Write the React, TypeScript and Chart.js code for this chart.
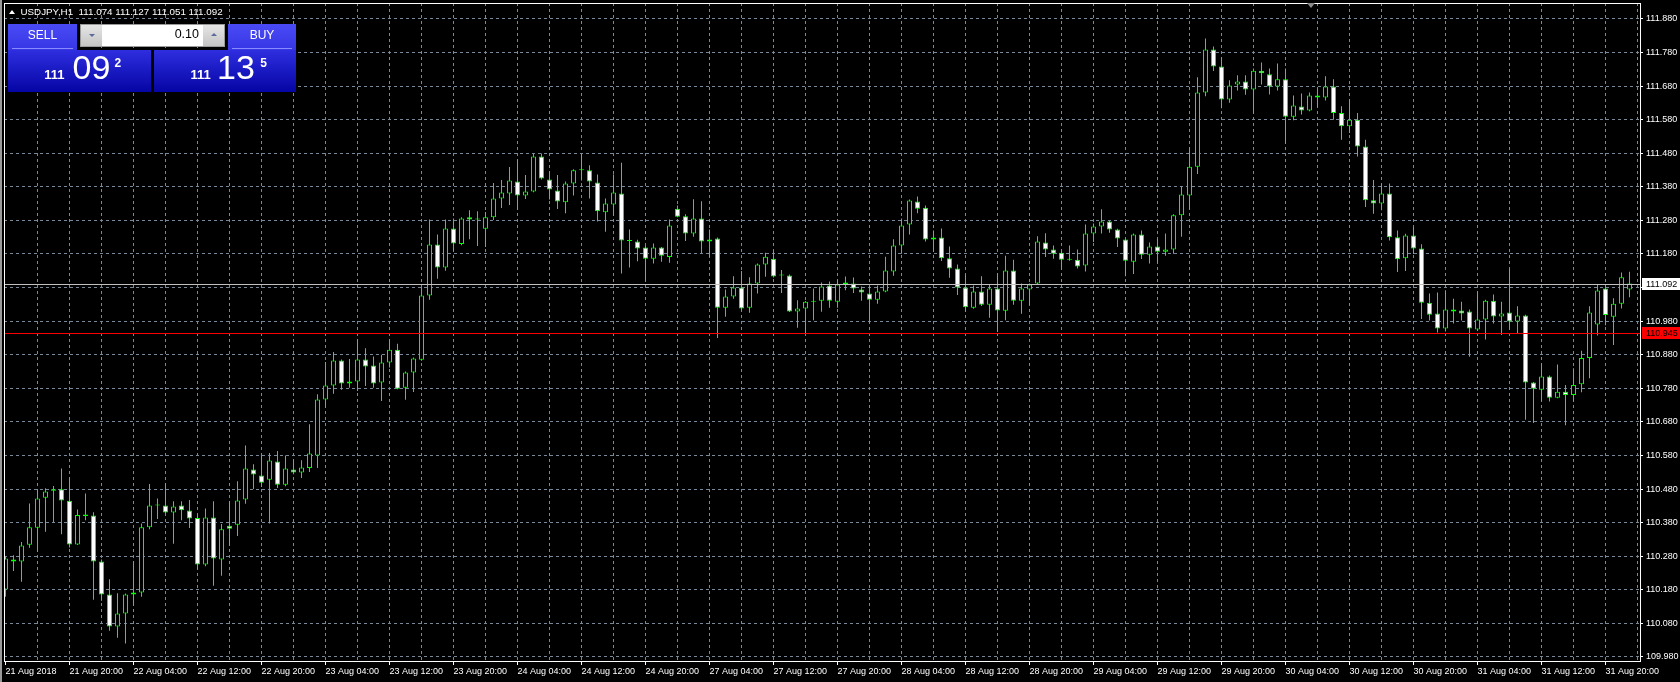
import React, { useEffect, useRef } from 'react';
import { Chart, registerables } from 'chart.js';

Chart.register(...registerables);

const SYMBOL = 'USDJPY,H1';

const OPEN = [
  110.181, 110.270, 110.264, 110.314, 110.365, 110.454, 110.475, 110.479, 110.445, 110.315,
  110.400, 110.401, 110.264, 110.166, 110.071, 110.109, 110.172, 110.172, 110.366, 110.431,
  110.431, 110.410, 110.431, 110.416, 110.394, 110.255, 110.395, 110.270, 110.371, 110.374,
  110.449, 110.538, 110.520, 110.508, 110.562, 110.493, 110.538, 110.529, 110.543, 110.580,
  110.747, 110.788, 110.863, 110.794, 110.800, 110.866, 110.848, 110.797, 110.857, 110.895,
  110.782, 110.827, 110.865, 111.056, 111.208, 111.140, 111.256, 111.210, 111.289, 111.283,
  111.255, 111.289, 111.345, 111.360, 111.396, 111.354, 111.366, 111.470, 111.402, 111.369,
  111.334, 111.390, 111.429, 111.429, 111.393, 111.304, 111.327, 111.360, 111.220, 111.217,
  111.199, 111.166, 111.199, 111.171, 111.315, 111.292, 111.241, 111.286, 111.217, 111.226,
  111.020, 111.053, 111.080, 111.020, 111.092, 111.149, 111.166, 111.119, 111.116, 111.009,
  111.018, 111.038, 111.041, 111.086, 111.038, 111.089, 111.092, 111.074, 111.062, 111.044,
  111.068, 111.128, 111.205, 111.268, 111.336, 111.318, 111.223, 111.229, 111.167, 111.137,
  111.080, 111.020, 111.068, 111.029, 111.077, 111.011, 111.131, 111.041, 111.074, 111.092,
  111.214, 111.193, 111.184, 111.163, 111.163, 111.146, 111.241, 111.262, 111.277, 111.253,
  111.223, 111.157, 111.238, 111.178, 111.202, 111.187, 111.193, 111.295, 111.354, 111.440,
  111.661, 111.789, 111.738, 111.640, 111.685, 111.694, 111.670, 111.726, 111.715, 111.679,
  111.700, 111.589, 111.619, 111.607, 111.652, 111.646, 111.679, 111.600, 111.560, 111.580,
  111.500, 111.340, 111.330, 111.360, 111.230, 111.167, 111.235, 111.196, 111.035, 111.003,
  110.958, 111.015, 111.012, 111.009, 110.955, 110.985, 111.041, 110.994, 111.006, 110.979,
  110.997, 110.797, 110.776, 110.815, 110.752, 110.770, 110.760, 110.792, 110.870, 110.970,
  111.077, 110.993, 111.032, 111.074,
];

const HIGH = [
  110.278, 110.283, 110.322, 110.437, 110.479, 110.482, 110.489, 110.541, 110.514, 110.419,
  110.467, 110.411, 110.270, 110.211, 110.170, 110.169, 110.265, 110.377, 110.495, 110.452,
  110.497, 110.444, 110.444, 110.447, 110.405, 110.422, 110.444, 110.376, 110.444, 110.503,
  110.610, 110.554, 110.580, 110.587, 110.593, 110.580, 110.568, 110.566, 110.673, 110.762,
  110.858, 110.888, 110.866, 110.867, 110.926, 110.899, 110.875, 110.880, 110.925, 110.913,
  110.830, 110.872, 111.080, 111.283, 111.238, 111.283, 111.286, 111.289, 111.310, 111.307,
  111.305, 111.391, 111.400, 111.439, 111.461, 111.415, 111.479, 111.479, 111.426, 111.415,
  111.396, 111.432, 111.479, 111.444, 111.417, 111.345, 111.417, 111.452, 111.253, 111.222,
  111.204, 111.211, 111.201, 111.283, 111.324, 111.298, 111.343, 111.337, 111.253, 111.229,
  111.074, 111.114, 111.129, 111.111, 111.152, 111.184, 111.190, 111.132, 111.119, 111.042,
  111.040, 111.077, 111.095, 111.098, 111.104, 111.113, 111.110, 111.083, 111.086, 111.086,
  111.172, 111.224, 111.286, 111.342, 111.351, 111.324, 111.250, 111.256, 111.202, 111.149,
  111.119, 111.086, 111.114, 111.089, 111.122, 111.175, 111.163, 111.092, 111.092, 111.233,
  111.242, 111.205, 111.190, 111.205, 111.193, 111.268, 111.271, 111.313, 111.280, 111.255,
  111.225, 111.241, 111.250, 111.214, 111.226, 111.241, 111.298, 111.381, 111.496, 111.706,
  111.822, 111.798, 111.765, 111.697, 111.712, 111.712, 111.732, 111.750, 111.732, 111.747,
  111.732, 111.652, 111.658, 111.661, 111.673, 111.709, 111.700, 111.620, 111.640, 111.600,
  111.520, 111.400, 111.390, 111.390, 111.250, 111.240, 111.260, 111.209, 111.062, 111.065,
  111.072, 111.047, 111.038, 111.015, 111.068, 111.044, 111.059, 111.038, 111.137, 111.024,
  110.999, 110.799, 110.854, 110.818, 110.851, 110.790, 110.840, 110.892, 111.024, 111.090,
  111.090, 111.048, 111.125, 111.127,
];

const LOW = [
  110.159, 110.236, 110.204, 110.305, 110.293, 110.353, 110.382, 110.345, 110.306, 110.313,
  110.387, 110.150, 110.147, 110.058, 110.037, 110.020, 110.133, 110.159, 110.360, 110.391,
  110.407, 110.317, 110.387, 110.364, 110.240, 110.250, 110.192, 110.222, 110.310, 110.340,
  110.436, 110.480, 110.486, 110.377, 110.483, 110.488, 110.524, 110.513, 110.531, 110.543,
  110.723, 110.764, 110.776, 110.782, 110.772, 110.787, 110.782, 110.742, 110.842, 110.777,
  110.746, 110.769, 110.862, 111.044, 111.106, 111.130, 111.189, 111.206, 111.224, 111.204,
  111.201, 111.281, 111.317, 111.326, 111.311, 111.344, 111.364, 111.402, 111.342, 111.314,
  111.301, 111.354, 111.399, 111.345, 111.277, 111.246, 111.294, 111.122, 111.140, 111.158,
  111.097, 111.152, 111.157, 111.154, 111.289, 111.219, 111.231, 111.183, 111.171, 110.930,
  110.993, 111.047, 111.011, 111.005, 111.062, 111.112, 111.110, 111.064, 111.007, 110.960,
  110.943, 110.983, 111.008, 111.020, 111.020, 111.072, 111.064, 111.041, 110.973, 111.032,
  111.066, 111.115, 111.181, 111.238, 111.301, 111.217, 111.186, 111.159, 111.109, 111.058,
  111.008, 111.017, 111.025, 110.990, 110.948, 110.983, 111.029, 111.002, 111.027, 111.090,
  111.171, 111.166, 111.134, 111.160, 111.137, 111.128, 111.216, 111.241, 111.243, 111.201,
  111.114, 111.120, 111.165, 111.152, 111.154, 111.175, 111.181, 111.231, 111.312, 111.418,
  111.650, 111.725, 111.614, 111.630, 111.667, 111.654, 111.598, 111.685, 111.655, 111.667,
  111.509, 111.578, 111.595, 111.605, 111.616, 111.637, 111.580, 111.520, 111.540, 111.470,
  111.320, 111.300, 111.310, 111.220, 111.126, 111.129, 111.180, 110.986, 110.982, 110.946,
  110.949, 110.973, 110.982, 110.874, 110.951, 110.925, 110.973, 110.939, 110.955, 110.943,
  110.686, 110.677, 110.741, 110.741, 110.750, 110.670, 110.740, 110.768, 110.810, 110.937,
  110.968, 110.909, 111.018, 111.051,
];

const CLOSE = [
  110.273, 110.264, 110.312, 110.366, 110.452, 110.473, 110.479, 110.446, 110.315, 110.403,
  110.404, 110.264, 110.166, 110.071, 110.109, 110.166, 110.166, 110.366, 110.431, 110.431,
  110.410, 110.428, 110.417, 110.392, 110.255, 110.395, 110.273, 110.360, 110.362, 110.446,
  110.541, 110.523, 110.499, 110.565, 110.493, 110.541, 110.529, 110.544, 110.586, 110.747,
  110.788, 110.863, 110.794, 110.800, 110.866, 110.845, 110.794, 110.857, 110.895, 110.779,
  110.827, 110.869, 111.056, 111.208, 111.140, 111.256, 111.211, 111.286, 111.283, 111.283,
  111.289, 111.345, 111.363, 111.399, 111.354, 111.366, 111.470, 111.405, 111.372, 111.336,
  111.390, 111.429, 111.429, 111.396, 111.307, 111.330, 111.363, 111.220, 111.219, 111.196,
  111.166, 111.199, 111.175, 111.265, 111.291, 111.241, 111.286, 111.217, 111.223, 111.020,
  111.053, 111.080, 111.018, 111.092, 111.149, 111.172, 111.113, 111.116, 111.009, 111.018,
  111.038, 111.038, 111.083, 111.041, 111.089, 111.095, 111.077, 111.065, 111.044, 111.068,
  111.131, 111.205, 111.265, 111.339, 111.315, 111.223, 111.229, 111.167, 111.137, 111.080,
  111.021, 111.068, 111.029, 111.077, 111.012, 111.131, 111.041, 111.077, 111.089, 111.217,
  111.193, 111.181, 111.163, 111.166, 111.143, 111.241, 111.262, 111.277, 111.253, 111.226,
  111.160, 111.238, 111.178, 111.202, 111.187, 111.193, 111.295, 111.357, 111.440, 111.661,
  111.789, 111.738, 111.640, 111.682, 111.694, 111.670, 111.726, 111.718, 111.679, 111.700,
  111.589, 111.622, 111.607, 111.652, 111.646, 111.679, 111.600, 111.560, 111.580, 111.500,
  111.340, 111.330, 111.360, 111.230, 111.164, 111.235, 111.196, 111.035, 110.999, 110.958,
  111.015, 111.009, 111.003, 110.958, 110.985, 111.041, 110.994, 111.003, 110.979, 110.997,
  110.797, 110.779, 110.815, 110.752, 110.770, 110.760, 110.790, 110.870, 111.006, 111.071,
  110.998, 111.032, 111.111, 111.092,
];

const TIME_LABELS = [
  '21 Aug 2018', '21 Aug 20:00', '22 Aug 04:00', '22 Aug 12:00', '22 Aug 20:00',
  '23 Aug 04:00', '23 Aug 12:00', '23 Aug 20:00', '24 Aug 04:00', '24 Aug 12:00',
  '24 Aug 20:00', '27 Aug 04:00', '27 Aug 12:00', '27 Aug 20:00', '28 Aug 04:00',
  '28 Aug 12:00', '28 Aug 20:00', '29 Aug 04:00', '29 Aug 12:00', '29 Aug 20:00',
  '30 Aug 04:00', '30 Aug 12:00', '30 Aug 20:00', '31 Aug 04:00', '31 Aug 12:00',
  '31 Aug 20:00',
];
const LABEL_EVERY = 8;
const GRID_EVERY = 4;

const PRICE_TICKS = [
  109.98, 110.08, 110.18, 110.28, 110.38, 110.48, 110.58, 110.68, 110.78, 110.88,
  110.98, 111.08, 111.18, 111.28, 111.38, 111.48, 111.58, 111.68, 111.78, 111.88,
];

const BID = 111.092;
const LEVEL = 110.945;
const SELL_PRICE = ['111', '09', '2'];
const BUY_PRICE = ['111', '13', '5'];
const LOT = '0.10';

const Y_MIN = 109.9679;
const Y_MAX = 111.9274;
const X_MIN = -0.1875;
const X_MAX = 204.3125;

const GREEN = '#00ff00';
const GRID = '#778899';
const FONT = '"Liberation Sans", Arial, sans-serif';

const overlayPlugin = {
  id: 'mt4overlay',
  afterDatasetsDraw(chart: any) {
    const { ctx, chartArea: a, scales } = chart;
    const y = scales.y;
    ctx.save();
    ctx.lineWidth = 1;
    const by = Math.round(y.getPixelForValue(BID)) + 0.5;
    ctx.strokeStyle = '#c0c0c0';
    ctx.beginPath();
    ctx.moveTo(a.left, by);
    ctx.lineTo(a.right, by);
    ctx.stroke();
    const ry = Math.round(y.getPixelForValue(LEVEL)) + 0.5;
    ctx.strokeStyle = '#ff0000';
    ctx.beginPath();
    ctx.moveTo(a.left, ry);
    ctx.lineTo(a.right, ry);
    ctx.stroke();
    ctx.strokeStyle = '#ffffff';
    ctx.strokeRect(a.left + 0.5, a.top + 0.5, a.right - a.left, a.bottom - a.top);
    ctx.restore();
  },
  afterDraw(chart: any) {
    const { ctx, chartArea: a, scales } = chart;
    const y = scales.y;
    ctx.save();
    ctx.font = '9px ' + FONT;
    ctx.textBaseline = 'middle';
    ctx.textAlign = 'left';
    const boxes = [
      { v: BID, bg: '#ffffff', fg: '#000000' },
      { v: LEVEL, bg: '#ff0000', fg: '#000000' },
    ];
    for (const b of boxes) {
      const py = Math.round(y.getPixelForValue(b.v));
      ctx.fillStyle = b.bg;
      ctx.fillRect(a.right + 2, py - 6, 40, 12);
      ctx.fillStyle = b.fg;
      ctx.fillText(b.v.toFixed(3), a.right + 6, py + 0.5);
    }
    ctx.restore();
  },
};

function CandleChart() {
  const ref = useRef<HTMLCanvasElement | null>(null);
  useEffect(() => {
    const canvas = ref.current;
    if (!canvas) return;
    const xs = OPEN.map((_, i) => i);
    const gridTicks: number[] = [];
    for (let v = 0; v <= X_MAX; v += GRID_EVERY) gridTicks.push(v);

    const chart = new Chart(canvas, {
      type: 'bar',
      data: {
        datasets: [
          {
            label: 'wick',
            data: xs.map((x, i) => ({ x, y: [LOW[i], HIGH[i]] })) as any,
            backgroundColor: GREEN,
            borderWidth: 0,
            barThickness: 1,
            grouped: false,
            order: 2,
            clip: 0,
            inflateAmount: 0,
            minBarLength: 1,
          } as any,
          {
            label: 'body',
            data: xs.map((x, i) => ({ x, y: [OPEN[i], CLOSE[i]] })) as any,
            backgroundColor: xs.map((i) => (CLOSE[i] < OPEN[i] ? '#ffffff' : '#000000')),
            borderColor: GREEN,
            borderWidth: 1,
            borderSkipped: false,
            barThickness: 5,
            grouped: false,
            order: 1,
            clip: 0,
            inflateAmount: 0,
            minBarLength: 1,
          } as any,
        ],
      },
      options: {
        animation: false,
        responsive: false,
        devicePixelRatio: 1,
        events: [],
        layout: { padding: { left: 4, top: 3, right: 0, bottom: 0 }, autoPadding: false } as any,
        plugins: { legend: { display: false }, tooltip: { enabled: false } },
        scales: {
          x: {
            type: 'linear',
            min: X_MIN,
            max: X_MAX,
            offset: false,
            bounds: 'data',
            afterBuildTicks: (s: any) => {
              s.ticks = gridTicks.map((v) => ({ value: v }));
            },
            afterFit: (s: any) => {
              s.height = 21;
              s.paddingLeft = 0;
              s.paddingRight = 0;
            },
            grid: {
              offset: false,
              color: (c: any) => (c.tick && c.tick.value === 0 ? 'rgba(0,0,0,0)' : GRID),
              lineWidth: 1,
              drawTicks: true,
              tickLength: 4,
              tickWidth: 1,
              tickBorderDash: [],
              tickColor: (c: any) =>
                c.tick && c.tick.value % LABEL_EVERY === 0 ? '#ffffff' : 'rgba(0,0,0,0)',
            },
            border: { display: false, dash: [3, 3] },
            ticks: {
              autoSkip: false,
              maxRotation: 0,
              minRotation: 0,
              align: 'start',
              padding: 1,
              color: '#ffffff',
              font: { family: FONT, size: 9 },
              callback: (v: any) =>
                v % LABEL_EVERY === 0 ? TIME_LABELS[v / LABEL_EVERY] ?? '' : '',
            },
          } as any,
          y: {
            type: 'linear',
            position: 'right',
            min: Y_MIN,
            max: Y_MAX,
            beginAtZero: false,
            bounds: 'data',
            afterBuildTicks: (s: any) => {
              s.ticks = PRICE_TICKS.map((v) => ({ value: v }));
            },
            afterFit: (s: any) => {
              s.width = 40;
              s.paddingTop = 0;
              s.paddingBottom = 0;
            },
            grid: {
              color: GRID,
              lineWidth: 1,
              drawTicks: true,
              tickLength: 3,
              tickWidth: 1,
              tickBorderDash: [],
              tickColor: '#ffffff',
            },
            border: { display: false, dash: [3, 3] },
            ticks: {
              autoSkip: false,
              padding: 3,
              color: '#ffffff',
              font: { family: FONT, size: 9 },
              callback: (v: any) => Number(v).toFixed(3),
            },
          } as any,
        },
      },
      plugins: [overlayPlugin],
    });
    return () => chart.destroy();
  }, []);
  return (
    <canvas
      ref={ref}
      width={1680}
      height={682}
      style={{ position: 'absolute', left: 0, top: 0, width: 1680, height: 682 }}
    />
  );
}

const abs = (s: any) => ({ position: 'absolute' as const, ...s });

function TradePanel() {
  const topBlue = 'linear-gradient(#4a4af5, #3636e6)';
  const boxBlue = 'linear-gradient(#2e2ee0, #0505a4)';
  const priceStyle = (size: number, bold: boolean) => ({
    fontFamily: FONT,
    fontSize: size,
    lineHeight: size + 'px',
    fontWeight: bold ? 700 : 400,
    color: '#ffffff',
    whiteSpace: 'pre' as const,
  });
  return (
    <>
      {/* SELL */}
      <div style={abs({ left: 8, top: 24, width: 69, height: 26, background: topBlue })} />
      <div style={abs({ left: 12, top: 48, width: 61, height: 1, background: '#8a8aff' })} />
      <div style={abs({ left: 8, top: 50, width: 143, height: 42, background: boxBlue })} />
      <div
        style={abs({
          left: 8, top: 28.8, width: 69, textAlign: 'center', color: '#fff',
          fontFamily: FONT, fontSize: 12, lineHeight: '12px',
        })}
      >
        SELL
      </div>
      {/* BUY */}
      <div style={abs({ left: 228, top: 24, width: 68, height: 26, background: topBlue })} />
      <div style={abs({ left: 232, top: 48, width: 60, height: 1, background: '#8a8aff' })} />
      <div style={abs({ left: 154, top: 50, width: 142, height: 42, background: boxBlue })} />
      <div
        style={abs({
          left: 228, top: 28.8, width: 68, textAlign: 'center', color: '#fff',
          fontFamily: FONT, fontSize: 12, lineHeight: '12px',
        })}
      >
        BUY
      </div>
      {/* lot spinner */}
      <div style={abs({ left: 80, top: 24, width: 145, height: 23, background: '#9a9a9a' })} />
      <div style={abs({ left: 81, top: 25, width: 21, height: 21, background: 'linear-gradient(#e6e6e6, #c4c4c4)' })} />
      <div style={abs({ left: 102, top: 25, width: 101, height: 21, background: '#ffffff' })} />
      <div style={abs({ left: 203, top: 25, width: 21, height: 21, background: 'linear-gradient(#e6e6e6, #c4c4c4)' })} />
      <div
        style={abs({
          left: 89, top: 34, width: 0, height: 0,
          borderLeft: '3px solid transparent', borderRight: '3px solid transparent',
          borderTop: '3px solid #5a6a9a',
        })}
      />
      <div
        style={abs({
          left: 211, top: 33, width: 0, height: 0,
          borderLeft: '3px solid transparent', borderRight: '3px solid transparent',
          borderBottom: '3px solid #5a6a9a',
        })}
      />
      <div
        style={abs({
          left: 102, top: 28.4, width: 97, textAlign: 'right', color: '#000',
          fontFamily: FONT, fontSize: 12.5, lineHeight: '12.5px',
        })}
      >
        {LOT}
      </div>
      {/* sell price */}
      <div style={abs({ left: 44.3, top: 68, ...priceStyle(13, true) })}>{SELL_PRICE[0]}</div>
      <div style={abs({ left: 72.6, top: 50.2, ...priceStyle(34, false) })}>{SELL_PRICE[1]}</div>
      <div style={abs({ left: 114.6, top: 56.5, ...priceStyle(12, true) })}>{SELL_PRICE[2]}</div>
      {/* buy price */}
      <div style={abs({ left: 190.6, top: 68, ...priceStyle(13, true) })}>{BUY_PRICE[0]}</div>
      <div style={abs({ left: 217, top: 50.2, ...priceStyle(34, false) })}>{BUY_PRICE[1]}</div>
      <div style={abs({ left: 260.2, top: 56.5, ...priceStyle(12, true) })}>{BUY_PRICE[2]}</div>
    </>
  );
}

export default function App() {
  const last = OPEN.length - 1;
  const header = `${SYMBOL}  ${OPEN[last].toFixed(3)} ${HIGH[last].toFixed(3)} ${LOW[last].toFixed(3)} ${CLOSE[last].toFixed(3)}`;
  return (
    <div
      style={{
        position: 'fixed', left: 0, top: 0, width: 1680, height: 682,
        background: '#000', overflow: 'hidden',
      }}
    >
      <CandleChart />
      <div style={abs({ left: 0, top: 0, width: 2, height: 682, background: '#9a9a9a' })} />
      <div
        style={abs({
          left: 9, top: 10, width: 0, height: 0,
          borderLeft: '3px solid transparent', borderRight: '3px solid transparent',
          borderBottom: '4px solid #fff',
        })}
      />
      <div
        style={abs({
          left: 20.5, top: 7, color: '#fff', fontFamily: FONT, fontSize: 9.8,
          lineHeight: '9.8px', whiteSpace: 'pre',
        })}
      >
        {header}
      </div>
      <div
        style={abs({
          left: 1307, top: 3, width: 0, height: 0,
          borderLeft: '4px solid transparent', borderRight: '4px solid transparent',
          borderTop: '5px solid #8a8a8a',
        })}
      />
      <TradePanel />
    </div>
  );
}
